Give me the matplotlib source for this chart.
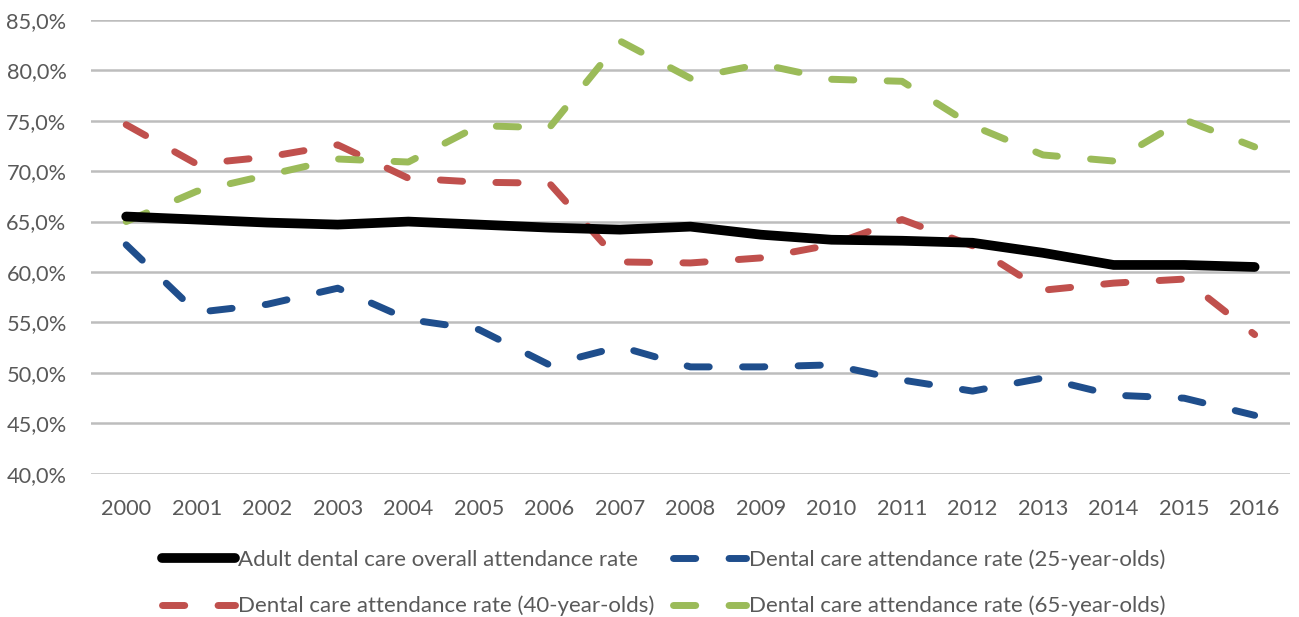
import matplotlib
matplotlib.use('Agg')
import matplotlib.pyplot as plt
from matplotlib.ticker import FuncFormatter

plt.rcParams['font.family'] = ['Lato', 'DejaVu Sans']

years = [str(y) for y in range(2000, 2017)]

# attendance rates in percent
overall = [65.5, 65.2, 64.9, 64.7, 65.0, 64.7, 64.4, 64.2, 64.5, 63.7,
           63.2, 63.1, 62.9, 61.9, 60.7, 60.7, 60.5]
age25 = [62.7, 56.0, 56.8, 58.4, 55.3, 54.3, 50.8, 52.6, 50.6, 50.6,
         50.8, 49.3, 48.2, 49.5, 47.8, 47.5, 45.8]
age40 = [74.6, 70.7, 71.4, 72.6, 69.3, 68.9, 68.8, 61.0, 60.9, 61.4,
         62.7, 65.2, 62.6, 58.2, 58.9, 59.3, 53.8]
age65 = [65.0, 68.0, 69.6, 71.2, 70.9, 74.5, 74.3, 82.9, 79.2, 80.6,
         79.1, 78.9, 74.5, 71.6, 71.0, 75.1, 72.4]

labels = ['Adult dental care overall attendance rate',
          'Dental care attendance rate (25-year-olds)',
          'Dental care attendance rate (40-year-olds)',
          'Dental care attendance rate (65-year-olds)']

text_col = '#595959'

fig = plt.figure(figsize=(12.99, 6.17), dpi=100)
ax = fig.add_axes([0.070, 0.232, 0.923, 0.736])

x = list(range(len(years)))
dash = dict(lw=5, dashes=(3.2, 4.8), dash_capstyle='round',
            solid_capstyle='round')

l_all, = ax.plot(x, overall, color='black', lw=7, solid_capstyle='round',
                 label=labels[0], zorder=3)
l25, = ax.plot(x, age25, color='#1F4E8C', label=labels[1], **dash)
l40, = ax.plot(x, age40, color='#C0504D', label=labels[2], **dash)
l65, = ax.plot(x, age65, color='#9BBB59', label=labels[3], **dash)

ax.set_xlim(-0.5, len(years) - 0.5)
ax.set_ylim(40, 85)
ax.set_yticks(range(40, 90, 5))
ax.yaxis.set_major_formatter(FuncFormatter(lambda v, p: ('%.1f%%' % v).replace('.', ',')))
ax.set_xticks(x)
ax.set_xticklabels(years)

ax.grid(axis='y', color='#bdbdbd', lw=1.8, zorder=0)
ax.set_axisbelow(True)
for s in ax.spines.values():
    s.set_visible(False)
ax.tick_params(axis='both', length=0, labelsize=15.7, colors=text_col)
ax.tick_params(axis='y', pad=17.5)
ax.tick_params(axis='x', pad=18)

# column-major fill gives rows: overall / 25, 40 / 65
leg = fig.legend([l_all, l40, l25, l65],
                 [labels[0], labels[2], labels[1], labels[3]],
                 ncol=2, loc='center', bbox_to_anchor=(0.511, 0.0555),
                 frameon=False, fontsize=16, handlelength=3.3,
                 handletextpad=0.15, columnspacing=0.8, labelspacing=1.18)
for t in leg.get_texts():
    t.set_color(text_col)

fig.savefig('out.png', dpi=100)
